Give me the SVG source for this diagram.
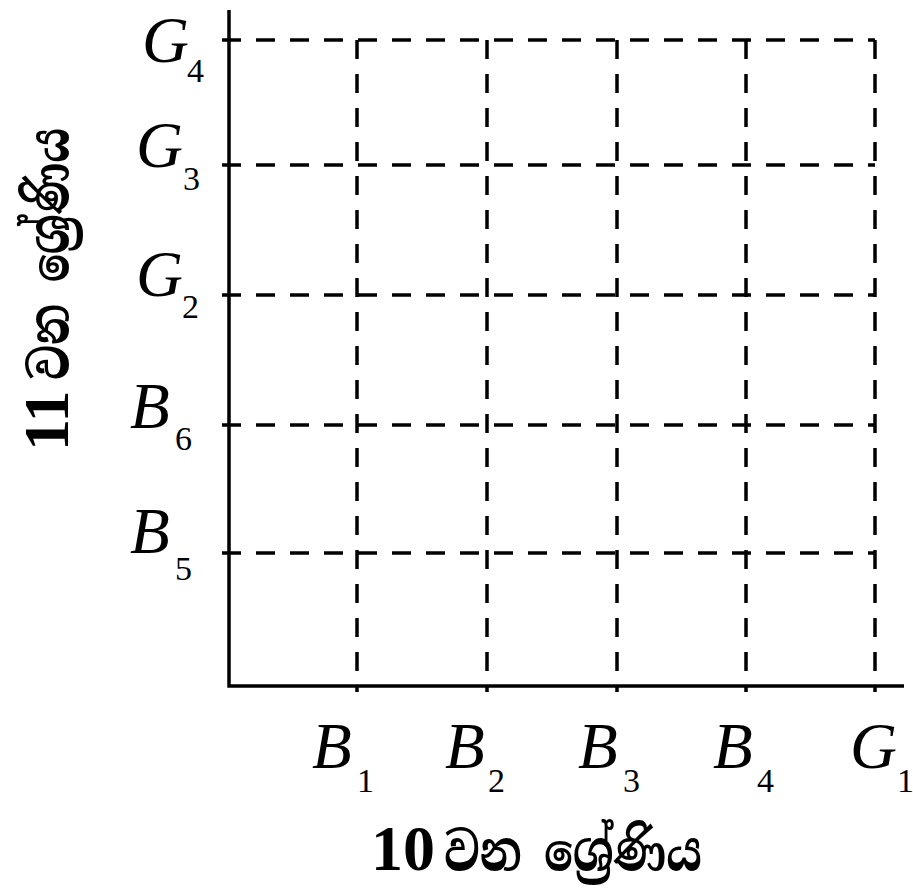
<svg xmlns="http://www.w3.org/2000/svg" width="913" height="893" viewBox="0 0 913 893">
<style>
.axis{stroke:#000;stroke-width:3.5;fill:none}
.grid{stroke:#000;stroke-width:3.5;fill:none;stroke-dasharray:19 15}
.lbl{font-family:"Liberation Serif","Times New Roman",serif;font-style:italic;font-size:65px;fill:#000}
.sub{font-family:"Liberation Serif","Times New Roman",serif;font-size:34px;fill:#000}
.num{font-family:"Liberation Serif","Times New Roman",serif;font-weight:bold;font-size:64px;fill:#000}
.sin{font-family:"Noto Serif Sinhala","Noto Sans Sinhala","Iskoola Pota",serif;font-weight:bold;font-size:54px;fill:#000}
</style>
<rect width="913" height="893" fill="#fff"/>
<g id="grid">
<path class="grid" d="M222 40H875M222 165H875M222 295H875M222 425H875M222 553H875"/>
<path class="grid" d="M357 40V692M487 40V692M617 40V692M746 40V692M875 40V692"/>
</g>
<g id="axes">
<path class="axis" d="M229 10V686H904"/>
</g>
<g id="y-labels">
<g id="G4"><text class="lbl" x="142" y="62">G</text><text class="sub" x="187" y="82">4</text></g>
<g id="G3"><text class="lbl" x="136" y="167">G</text><text class="sub" x="183" y="190">3</text></g>
<g id="G2"><text class="lbl" x="136" y="296">G</text><text class="sub" x="182" y="318">2</text></g>
<g id="B6"><text class="lbl" x="130" y="428">B</text><text class="sub" x="175" y="450">6</text></g>
<g id="B5"><text class="lbl" x="130" y="553">B</text><text class="sub" x="175" y="580">5</text></g>
</g>
<g id="x-labels">
<g id="B1"><text class="lbl" x="312" y="768">B</text><text class="sub" x="357" y="792">1</text></g>
<g id="B2"><text class="lbl" x="445" y="768">B</text><text class="sub" x="488" y="792">2</text></g>
<g id="B3"><text class="lbl" x="578" y="768">B</text><text class="sub" x="623" y="792">3</text></g>
<g id="B4"><text class="lbl" x="713" y="768">B</text><text class="sub" x="757" y="792">4</text></g>
<g id="G1"><text class="lbl" x="850" y="768">G</text><text class="sub" x="897" y="792">1</text></g>
</g>
<g id="x-title">
<text class="num" x="371" y="870">10</text>
<text class="sin" x="444" y="870" textLength="258" lengthAdjust="spacingAndGlyphs">වන ශ්‍රේණිය</text>
</g>
<g id="y-title">
<text class="num" transform="translate(68,451) rotate(-90)">11</text>
<text class="sin" transform="translate(68,380) rotate(-90)" textLength="252" lengthAdjust="spacingAndGlyphs">වන ශ්‍රේණිය</text>
</g>
</svg>
